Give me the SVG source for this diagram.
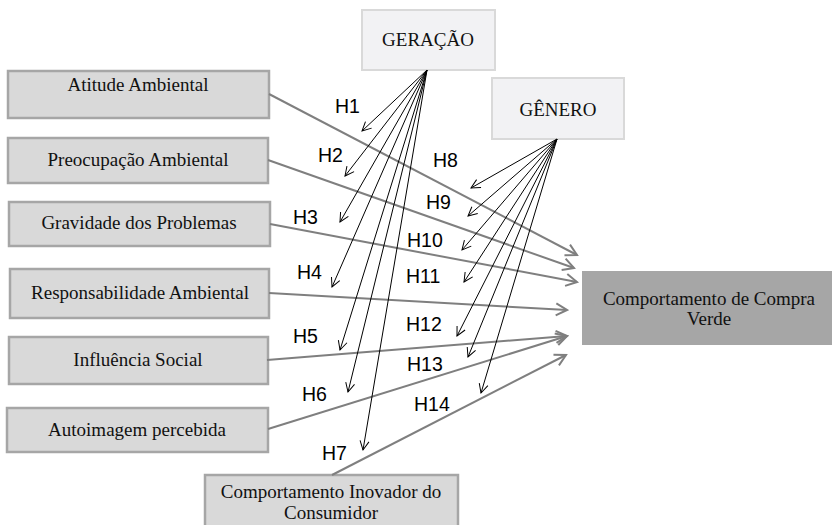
<svg xmlns="http://www.w3.org/2000/svg" width="832" height="525" viewBox="0 0 832 525">
<style>
.box{fill:#d9d9d9;stroke:#a6a6a6;stroke-width:2.5}
.mod{fill:#f2f2f4;stroke:#d9d9d9;stroke-width:2}
.out{fill:#a6a6a6;stroke:none}
.t{font-family:"Liberation Serif","Times New Roman",serif;font-size:19px;fill:#111;text-anchor:middle}
.h{font-family:"Liberation Sans",Arial,sans-serif;font-size:19.5px;fill:#000}
.g{stroke:#7f7f7f;stroke-width:2;fill:none;marker-end:url(#ga)}
.k{stroke:#000;stroke-width:1;fill:none;marker-end:url(#ka)}
</style>
<defs>
<marker id="ga" markerUnits="userSpaceOnUse" viewBox="-13 -8 15 16" refX="0" refY="0" markerWidth="15" markerHeight="16" orient="auto">
<path d="M-11,-6 L0,0 L-11,6" fill="none" stroke="#7f7f7f" stroke-width="2"/>
</marker>
<marker id="ka" markerUnits="userSpaceOnUse" viewBox="-10 -6 12 12" refX="0" refY="0" markerWidth="12" markerHeight="12" orient="auto">
<path d="M-9,-4.5 L0,0 L-9,4.5" fill="none" stroke="#000" stroke-width="1"/>
</marker>
</defs>
<rect width="832" height="525" fill="#fff"/>

<g id="n-atitude"><rect class="box" x="8" y="71" width="261" height="47"/><text class="t" x="138" y="91">Atitude Ambiental</text></g>
<g id="n-preocupacao"><rect class="box" x="8" y="138" width="260" height="45"/><text class="t" x="138" y="166">Preocupação Ambiental</text></g>
<g id="n-gravidade"><rect class="box" x="9" y="202" width="261" height="44"/><text class="t" x="139" y="229">Gravidade dos Problemas</text></g>
<g id="n-responsabilidade"><rect class="box" x="10" y="269" width="259" height="49"/><text class="t" x="140" y="299">Responsabilidade Ambiental</text></g>
<g id="n-influencia"><rect class="box" x="9" y="337" width="259" height="47"/><text class="t" x="138" y="366">Influência Social</text></g>
<g id="n-autoimagem"><rect class="box" x="7" y="408" width="261" height="44"/><text class="t" x="137" y="436">Autoimagem percebida</text></g>
<g id="n-inovador"><rect class="box" x="205" y="475" width="253" height="60"/><text class="t" x="331" y="498">Comportamento Inovador do</text><text class="t" x="331" y="519">Consumidor</text></g>
<g id="n-geracao"><rect class="mod" x="362" y="10" width="133" height="60"/><text class="t" x="428" y="46">GERAÇÃO</text></g>
<g id="n-genero"><rect class="mod" x="492" y="78" width="132" height="61"/><text class="t" x="558" y="116">GÊNERO</text></g>
<g id="n-compra"><rect class="out" x="582" y="271" width="254" height="74"/><text class="t" x="709" y="305">Comportamento de Compra</text><text class="t" x="709" y="325">Verde</text></g>

<g id="connectors">
<line class="g" x1="269" y1="94" x2="577" y2="255"/>
<line class="g" x1="268" y1="160" x2="574" y2="268"/>
<line class="g" x1="270" y1="224" x2="577" y2="282"/>
<line class="g" x1="269" y1="293" x2="567" y2="310"/>
<line class="g" x1="267" y1="360" x2="567" y2="336"/>
<line class="g" x1="268" y1="429" x2="567" y2="336"/>
<line class="g" x1="332" y1="475" x2="566" y2="355"/>

<line class="k" x1="427" y1="70" x2="362" y2="131"/>
<line class="k" x1="427" y1="70" x2="345" y2="176"/>
<line class="k" x1="427" y1="70" x2="340" y2="222"/>
<line class="k" x1="427" y1="70" x2="332" y2="287"/>
<line class="k" x1="427" y1="70" x2="340" y2="350"/>
<line class="k" x1="427" y1="70" x2="348" y2="392"/>
<line class="k" x1="427" y1="70" x2="363" y2="450"/>

<line class="k" x1="557" y1="139" x2="471" y2="188"/>
<line class="k" x1="557" y1="139" x2="468" y2="216"/>
<line class="k" x1="557" y1="139" x2="462" y2="250"/>
<line class="k" x1="557" y1="139" x2="464" y2="282"/>
<line class="k" x1="557" y1="139" x2="457" y2="336"/>
<line class="k" x1="557" y1="139" x2="468" y2="357"/>
<line class="k" x1="557" y1="139" x2="481" y2="393"/>
</g>

<g id="labels">
<text class="h" x="335" y="113">H1</text>
<text class="h" x="318" y="162">H2</text>
<text class="h" x="293" y="224">H3</text>
<text class="h" x="297" y="279">H4</text>
<text class="h" x="293" y="343">H5</text>
<text class="h" x="302" y="401">H6</text>
<text class="h" x="322" y="460">H7</text>
<text class="h" x="433" y="167">H8</text>
<text class="h" x="426" y="209">H9</text>
<text class="h" x="407" y="247">H10</text>
<text class="h" x="406" y="283">H11</text>
<text class="h" x="406" y="331">H12</text>
<text class="h" x="407" y="371">H13</text>
<text class="h" x="414" y="411">H14</text>
</g>
</svg>
